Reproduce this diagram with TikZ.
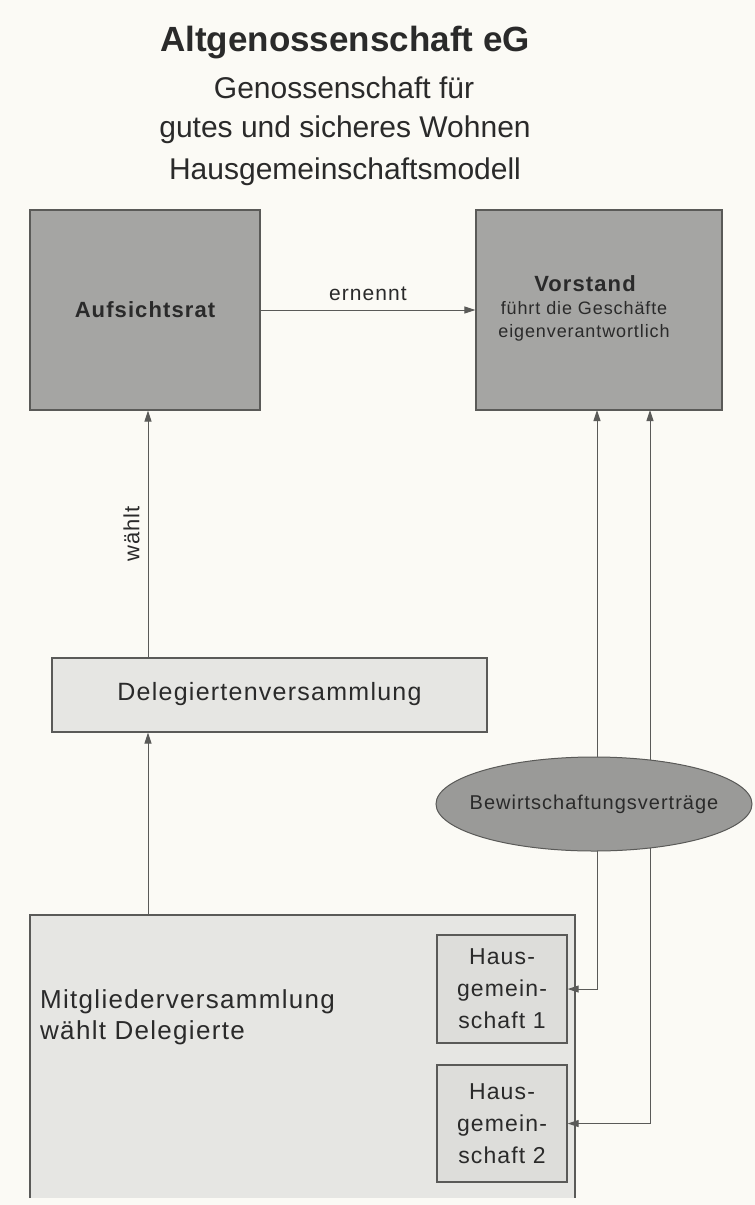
\documentclass[tikz,border=0pt]{standalone}
\usepackage{fontspec}
\setmainfont{Liberation Sans}
\newfontfamily\spaced{Liberation Sans}[LetterSpace=5]
\usetikzlibrary{arrows.meta,shapes.geometric}
\definecolor{paper}{HTML}{FBFAF5}
\definecolor{darkbox}{HTML}{A5A5A3}
\definecolor{ellfill}{HTML}{9A9A98}
\definecolor{lightbox}{HTML}{E6E6E3}
\definecolor{hausbox}{HTML}{DDDDDA}
\definecolor{edge}{HTML}{5A5A58}
\definecolor{ink}{HTML}{2A2A2A}
\tikzset{
  bigbox/.style={draw=edge, line width=1.3pt, fill=darkbox, align=center, text=ink, inner sep=0pt},
  lightrect/.style={draw=edge, line width=1.3pt, fill=lightbox, text=ink, inner sep=0pt},
  hausrect/.style={draw=edge, line width=1.3pt, fill=hausbox, text=ink, align=center, inner sep=0pt, font=\spaced\fontsize{23}{32}\selectfont},
  tip/.tip={Triangle[length=11pt,width=7pt]},
  conn/.style={draw=edge, line width=1pt, -tip},
  dconn/.style={draw=edge, line width=1pt, tip-tip},
  lbl/.style={text=ink, inner sep=0pt},
}
\begin{document}
\begin{tikzpicture}[x=1pt,y=-1pt]
\fill[paper] (0,0) rectangle (755,1205);
\useasboundingbox (0,0) rectangle (755,1205);
% title
\node[lbl, font=\bfseries\fontsize{35}{40}\selectfont] (title) at (345,43) {Altgenossenschaft eG};
\node[lbl, font=\fontsize{30}{35}\selectfont] (sub1) at (344,88) {Genossenschaft für};
\node[lbl, font=\fontsize{30}{35}\selectfont] (sub2) at (345,130) {gutes und sicheres Wohnen};
\node[lbl, font=\fontsize{30}{35}\selectfont] (sub3) at (345,172) {Hausgemeinschaftsmodell};
% top boxes
\node[bigbox, minimum width=230pt, minimum height=200pt, font=\spaced\bfseries\fontsize{22}{26}\selectfont] (auf) at (145,310) {Aufsichtsrat};
\node[bigbox, minimum width=246pt, minimum height=200pt] (vor) at (599,310) {};
\node[lbl, font=\spaced\bfseries\fontsize{22}{26}\selectfont] (vort) at (585,284) {Vorstand};
\node[lbl, font=\spaced\fontsize{18}{23}\selectfont, align=center] (vorsub) at (584,321) {führt die Geschäfte\\eigenverantwortlich};
% delegierten
\node[lightrect, minimum width=435pt, minimum height=74pt, font=\spaced\fontsize{25}{30}\selectfont] (del) at (269.5,695) {\raisebox{8pt}{Delegiertenversammlung}};
% mitglieder
\fill[lightbox] (30,915) rectangle (575,1198);
\draw[edge, line width=1.3pt] (30,1198) -- (30,915) -- (575,915) -- (575,1198);
\coordinate (mtop) at (148,915);
\node[lbl, anchor=west, align=left, font=\spaced\fontsize{26}{31}\selectfont] (mit) at (40,1017) {Mitgliederversammlung\\wählt Delegierte};
% haus boxes
\node[hausrect, minimum width=130pt, minimum height=108pt] (h1) at (502,989) {Haus-\\gemein-\\schaft 1};
\node[hausrect, minimum width=130pt, minimum height=117pt] (h2) at (502,1123.5) {Haus-\\gemein-\\schaft 2};
% connectors
\draw[conn] (auf.east) -- node[lbl, above=9pt, font=\spaced\fontsize{21}{25}\selectfont] (ern) {ernennt} (vor.west);
\draw[conn] (del.north -| mtop) -- node[lbl, left=8pt, rotate=90, anchor=south, font=\spaced\fontsize{22}{26}\selectfont] (waehlt) {wählt} (auf.south -| mtop);
\draw[conn] (mtop) -- (del.south -| mtop);
\coordinate (v1) at (597,410);
\coordinate (v2) at (650,410);
\draw[dconn] (h1.east) -| (v1);
\draw[dconn] (h2.east) -| (v2);
% ellipse
\node[ellipse, draw=edge, line width=1pt, fill=ellfill, minimum width=316pt, minimum height=94pt, inner sep=0pt] (ell) at (594,804) {};
\node[lbl, font=\spaced\fontsize{20}{24}\selectfont] (ellt) at (ell.center) {Bewirtschaftungsverträge};
\end{tikzpicture}
\end{document}
